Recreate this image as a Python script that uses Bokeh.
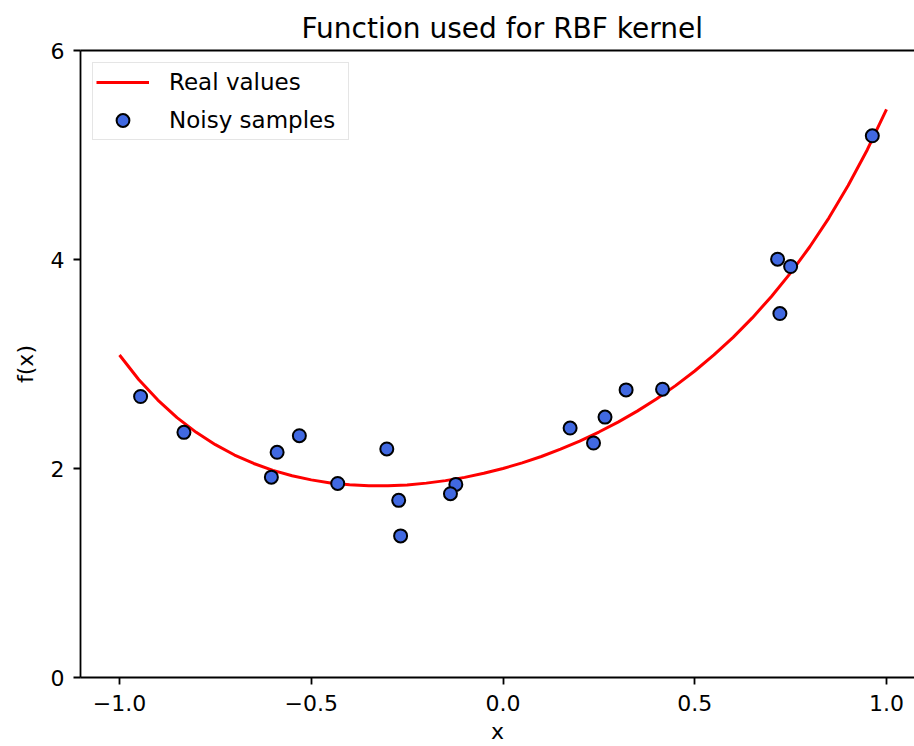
from bokeh.plotting import figure
from bokeh.models import (Range1d, FixedTicker, LinearAxis, CustomJSTickFormatter,
                          ColumnDataSource)
from bokeh.embed import file_html
from bokeh.resources import INLINE

# Real function values
curve_x = [-1.00, -0.95, -0.90, -0.85, -0.80, -0.75, -0.70, -0.65, -0.60, -0.55,
           -0.50, -0.45, -0.40, -0.35, -0.30, -0.25, -0.20, -0.15, -0.10, -0.05,
           0.00, 0.05, 0.10, 0.15, 0.20, 0.25, 0.30, 0.35, 0.40, 0.45,
           0.50, 0.55, 0.60, 0.65, 0.70, 0.75, 0.80, 0.85, 0.90, 0.95, 1.00]
curve_y = [3.086, 2.852, 2.655, 2.487, 2.346, 2.228, 2.129, 2.048, 1.982, 1.930,
           1.891, 1.862, 1.844, 1.835, 1.835, 1.843, 1.860, 1.884, 1.915, 1.954,
           2.000, 2.054, 2.115, 2.185, 2.262, 2.349, 2.444, 2.549, 2.665, 2.793,
           2.933, 3.087, 3.255, 3.441, 3.646, 3.872, 4.122, 4.399, 4.708, 5.051, 5.437]

# Noisy samples
sample_x = [-0.945, -0.832, -0.604, -0.589, -0.531, -0.431, -0.303, -0.272, -0.267,
            -0.123, -0.137, 0.175, 0.236, 0.266, 0.321, 0.416, 0.716, 0.750, 0.722, 0.963]
sample_y = [2.689, 2.346, 1.917, 2.155, 2.314, 1.857, 2.187, 1.695, 1.355,
            1.848, 1.759, 2.387, 2.244, 2.492, 2.752, 2.759, 4.003, 3.933, 3.483, 5.184]

x_ticks = [-1.0, -0.5, 0.0, 0.5, 1.0]
y_ticks = [0, 2, 4, 6]

FONT = "DejaVu Sans"

p = figure(width=914, height=746, output_backend="svg", toolbar_location=None,
           x_range=Range1d(-1.1017, 1.073), y_range=Range1d(0, 6),
           min_border_left=80, min_border_right=0, min_border_top=50, min_border_bottom=67)
p.outline_line_color = None
p.grid.visible = False
p.background_fill_color = "white"
p.border_fill_color = "white"

p.line(curve_x, curve_y, line_color="#ff0000", line_width=3, legend_label="Real values")
src = ColumnDataSource(dict(x=sample_x, y=sample_y))
p.scatter("x", "y", source=src, size=13, fill_color="#4169e1", line_color="black",
          line_width=2, legend_label="Noisy samples")

# Title
p.title.text = "Function used for RBF kernel"
p.title.align = "left"
p.title.offset = 221
p.title.text_font = FONT
p.title.text_font_size = "28px"
p.title.text_font_style = "normal"
p.title.text_color = "black"
p.title.standoff = 12

for ax in (p.xaxis[0], p.yaxis[0]):
    ax.axis_line_width = 1.8
    ax.axis_line_color = "black"
    ax.major_tick_line_width = 1.8
    ax.major_tick_out = 7
    ax.major_tick_in = 0
    ax.minor_tick_line_color = None
    ax.major_label_text_font = FONT
    ax.major_label_text_font_size = "22px"
    ax.major_label_text_color = "black"
    ax.axis_label_text_font = FONT
    ax.axis_label_text_font_size = "22px"
    ax.axis_label_text_font_style = "normal"
    ax.axis_label_text_color = "black"

p.xaxis[0].ticker = FixedTicker(ticks=x_ticks)
p.xaxis[0].formatter = CustomJSTickFormatter(
    code="return (tick < 0 ? '\\u2212' : '') + Math.abs(tick).toFixed(1);")
p.xaxis[0].axis_label = "x"
p.xaxis[0].major_label_standoff = 10
p.xaxis[0].axis_label_standoff = 5

p.yaxis[0].ticker = FixedTicker(ticks=y_ticks)
p.yaxis[0].axis_label = "f(x)"
p.yaxis[0].major_label_standoff = 9
p.yaxis[0].axis_label_standoff = 10

top = LinearAxis(ticker=FixedTicker(ticks=[]), major_tick_out=0, major_tick_in=0,
                 minor_tick_out=0, minor_tick_in=0, major_label_standoff=0,
                 axis_line_width=1.8, axis_line_color="black",
                 major_label_text_font_size="0px")
p.add_layout(top, "above")

lg = p.legend[0]
lg.location = "top_left"
lg.margin = 12
lg.padding = 3
lg.spacing = 6
lg.glyph_width = 53
lg.glyph_height = 32
lg.label_height = 32
lg.label_width = 176
lg.label_standoff = 20
lg.label_text_font = FONT
lg.label_text_font_size = "23px"
lg.label_text_color = "black"
lg.border_line_color = "#cccccc"
lg.border_line_width = 1.5
lg.background_fill_alpha = 0.8

open("out.html", "w").write(file_html(p, INLINE))
